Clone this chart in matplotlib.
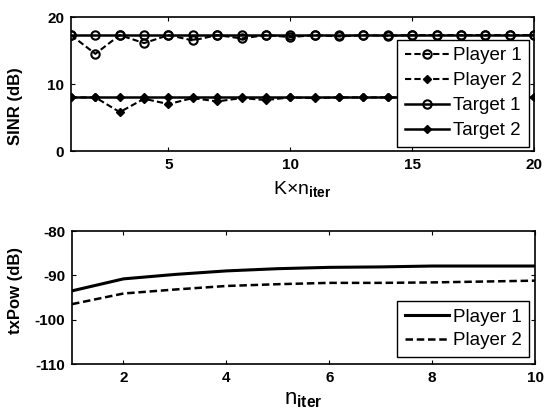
import numpy as np
import matplotlib
matplotlib.use('Agg')
import matplotlib.pyplot as plt

plt.rcParams['font.family'] = 'Liberation Sans'
plt.rcParams['font.weight'] = 'bold'
plt.rcParams['font.size'] = 11
plt.rcParams['axes.labelweight'] = 'bold'
plt.rcParams['axes.unicode_minus'] = False
plt.rcParams['mathtext.fontset'] = 'custom'
plt.rcParams['mathtext.rm'] = 'Liberation Sans'
plt.rcParams['mathtext.it'] = 'Liberation Sans'
plt.rcParams['mathtext.bf'] = 'Liberation Sans:bold'

# SINR vs K x n_iter
k_iter = np.arange(1, 21)
sinr_p1 = [17.3, 14.5, 17.3, 16.1, 17.3, 16.5, 17.3, 16.8, 17.3, 17.0, 17.3, 17.1, 17.3, 17.2, 17.3, 17.3, 17.3, 17.3, 17.3, 17.3]
sinr_p2 = [8.0, 8.0, 5.8, 7.8, 7.0, 7.9, 7.4, 7.9, 7.6, 8.0, 7.9, 8.0, 8.0, 8.0, 8.0, 8.0, 8.0, 8.0, 8.0, 8.0]
sinr_t1 = [17.3] * 20
sinr_t2 = [8.0] * 20

# transmit power vs n_iter
n_iter = np.arange(1, 11)
pow_p1 = [-93.5, -90.8, -89.8, -89.0, -88.5, -88.2, -88.1, -87.9, -87.9, -87.9]
pow_p2 = [-96.5, -94.1, -93.2, -92.4, -92.0, -91.7, -91.7, -91.6, -91.4, -91.2]

W, H = 546, 419
fig = plt.figure(figsize=(W/100, H/100), dpi=100)
ax1 = fig.add_axes([71/W, 1-151/H, 463/W, 134/H])
ax2 = fig.add_axes([72/W, 1-364/H, 463/W, 133/H])

ax1.plot(k_iter, sinr_p1, 'k--o', mfc='none', ms=6, mew=1.5, lw=1.5, dashes=(3, 1.5), label='Player 1')
ax1.plot(k_iter, sinr_p2, 'k--D', ms=4, lw=1.5, dashes=(3, 1.5), label='Player 2')
ax1.plot(k_iter, sinr_t1, 'k-o', mfc='none', ms=6, mew=1.5, lw=1.8, label='Target 1')
ax1.plot(k_iter, sinr_t2, 'k-D', ms=4, lw=1.8, label='Target 2')
ax1.set_xlim(1, 20)
ax1.set_ylim(0, 20)
ax1.set_xticks([5, 10, 15, 20])
ax1.set_yticks([0, 10, 20])
ax1.set_xlabel('K×n$_{\\mathrm{iter}}$', fontsize=14, fontweight='normal')
ax1.set_ylabel('SINR (dB)', fontsize=12)
ax1.xaxis.set_label_coords(0.5, -0.21)
ax1.yaxis.set_label_coords(-0.104, 0.336)

leg_kw = dict(loc='lower right', fancybox=False, edgecolor='k', framealpha=1,
              prop={'size': 13.5, 'weight': 'normal'}, borderpad=0.4,
              handletextpad=0.2, handlelength=2.35, borderaxespad=0)
ax1.legend(labelspacing=0.42, bbox_to_anchor=(0.989, 0.03), **leg_kw)

ax2.plot(n_iter, pow_p1, 'k-', lw=2.2, label='Player 1')
ax2.plot(n_iter, pow_p2, 'k--', lw=1.8, dashes=(3, 1.5), label='Player 2')
ax2.set_xlim(1, 10)
ax2.set_ylim(-110, -80)
ax2.set_xticks([2, 4, 6, 8, 10])
ax2.set_yticks([-110, -100, -90, -80])
ax2.set_xlabel('n$_{\\mathrm{iter}}$', fontsize=16, fontweight='normal')
ax2.set_ylabel('txPow (dB)', fontsize=12)
ax2.xaxis.set_label_coords(0.5, -0.19)
ax2.yaxis.set_label_coords(-0.106, 0.549)
ax2.legend(labelspacing=0.35, bbox_to_anchor=(0.987, 0.053), **leg_kw)

for ax in (ax1, ax2):
    ax.tick_params(direction='in', length=3, top=True, right=True, labelsize=11, pad=5)
    for s in ax.spines.values():
        s.set_linewidth(1.2)

fig.savefig('out.png', dpi=100)
